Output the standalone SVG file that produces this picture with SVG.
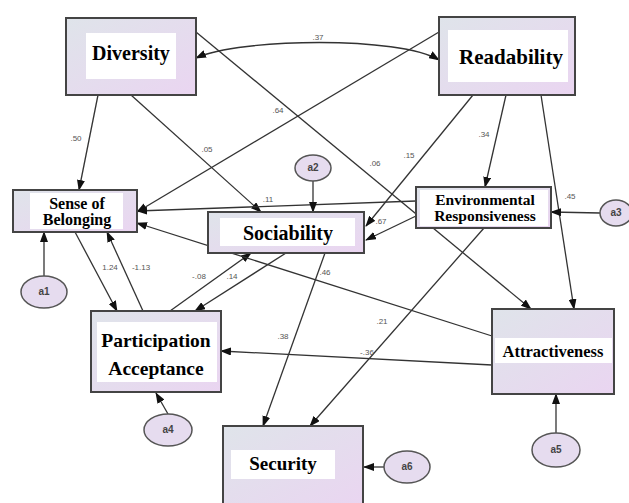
<svg xmlns="http://www.w3.org/2000/svg" width="629" height="503" viewBox="0 0 629 503">
<defs>
<linearGradient id="bg" x1="0" y1="0" x2="1" y2="1">
<stop offset="0" stop-color="#dfe4ea"/>
<stop offset="1" stop-color="#ead5f1"/>
</linearGradient>
<marker id="ah" markerWidth="11" markerHeight="8" refX="10" refY="4" orient="auto" markerUnits="userSpaceOnUse">
<path d="M0,0 L11,4 L0,8 z" fill="#111"/>
</marker>
<marker id="ahs" markerWidth="11" markerHeight="8" refX="1" refY="4" orient="auto" markerUnits="userSpaceOnUse">
<path d="M11,0 L0,4 L11,8 z" fill="#111"/>
</marker>
</defs>
<style>
.box{fill:url(#bg);stroke:#444;stroke-width:2}
.inner{fill:#fff}
.t{font-family:"Liberation Serif","Times New Roman",serif;font-weight:bold;fill:#000;text-anchor:middle}
.el{fill:#e6dcef;stroke:#555;stroke-width:1.5}
.et{font-family:"Liberation Sans",Arial,sans-serif;font-weight:bold;font-size:10px;fill:#444;text-anchor:middle}
.c{stroke:#333;stroke-width:1.3;fill:none;marker-end:url(#ah)}
.lb{font-family:"Liberation Sans",Arial,sans-serif;font-size:8px;fill:#555;text-anchor:middle}
</style>
<rect width="629" height="503" fill="#fff"/>
<g id="connectors">
<path class="c" d="M196,58 C240,38 400,36 439,60" marker-start="url(#ahs)"/>
<line class="c" x1="98" y1="95" x2="79" y2="190"/>
<line class="c" x1="131" y1="95" x2="261" y2="212"/>
<line class="c" x1="196" y1="32" x2="531" y2="309"/>
<line class="c" x1="439" y1="32" x2="137" y2="212"/>
<line class="c" x1="506" y1="95" x2="485" y2="187"/>
<line class="c" x1="473" y1="95" x2="366" y2="226"/>
<line class="c" x1="541" y1="95" x2="574" y2="309"/>
<line class="c" x1="416" y1="201" x2="137" y2="211"/>
<line class="c" x1="416" y1="216" x2="366" y2="240"/>
<line class="c" x1="484" y1="228" x2="310" y2="426"/>
<line class="c" x1="600" y1="213" x2="551" y2="212"/>
<line class="c" x1="286" y1="253" x2="195" y2="311"/>
<line class="c" x1="170" y1="311" x2="251" y2="253"/>
<line class="c" x1="325" y1="253" x2="263" y2="426"/>
<line class="c" x1="492" y1="336" x2="137" y2="223"/>
<line class="c" x1="492" y1="365" x2="221" y2="351"/>
<line class="c" x1="75" y1="232" x2="117" y2="311"/>
<line class="c" x1="143" y1="311" x2="107" y2="232"/>
<line class="c" x1="44" y1="276" x2="44" y2="232"/>
<line class="c" x1="313" y1="181" x2="313" y2="212"/>
<line class="c" x1="168" y1="414" x2="156" y2="393"/>
<line class="c" x1="556" y1="433" x2="556" y2="394"/>
<line class="c" x1="384" y1="467" x2="364" y2="467"/>
<text class="lb" x="318" y="40">.37</text>
<text class="lb" x="76" y="141">.50</text>
<text class="lb" x="207" y="152">.05</text>
<text class="lb" x="375" y="166">.06</text>
<text class="lb" x="278" y="113">.64</text>
<text class="lb" x="484" y="137">.34</text>
<text class="lb" x="409" y="158">.15</text>
<text class="lb" x="570" y="199">.45</text>
<text class="lb" x="268" y="202">.11</text>
<text class="lb" x="381" y="224">.67</text>
<text class="lb" x="382" y="324">.21</text>
<text class="lb" x="232" y="279">.14</text>
<text class="lb" x="199" y="279">-.08</text>
<text class="lb" x="283" y="339">.38</text>
<text class="lb" x="325" y="275">.46</text>
<text class="lb" x="367" y="355">-.36</text>
<text class="lb" x="110" y="270">1.24</text>
<text class="lb" x="141" y="270">-1.13</text>
</g>
<g id="diversity">
<rect class="box" x="66" y="18" width="130" height="77"/>
<rect class="inner" x="86" y="33" width="90" height="46"/>
<text class="t" x="131" y="60" font-size="20">Diversity</text>
</g>
<g id="readability">
<rect class="box" x="439" y="17" width="136" height="78"/>
<rect class="inner" x="448" y="30" width="120" height="52"/>
<text class="t" x="511" y="64" font-size="21">Readability</text>
</g>
<g id="sense-of-belonging">
<rect class="box" x="13" y="190" width="124" height="42"/>
<rect class="inner" x="30" y="193" width="93" height="36"/>
<text class="t" x="77" y="209" font-size="16">Sense of</text>
<text class="t" x="77" y="225" font-size="16">Belonging</text>
</g>
<g id="sociability">
<rect class="box" x="208" y="212" width="156" height="41"/>
<rect class="inner" x="220" y="218" width="135" height="28"/>
<text class="t" x="288" y="240" font-size="20">Sociability</text>
</g>
<g id="environmental-responsiveness">
<rect class="box" x="416" y="187" width="135" height="41"/>
<rect class="inner" x="420" y="190" width="128" height="36"/>
<text class="t" x="485" y="205" font-size="15.5">Environmental</text>
<text class="t" x="485" y="221" font-size="15.5">Responsiveness</text>
</g>
<g id="participation-acceptance">
<rect class="box" x="91" y="311" width="130" height="81"/>
<rect class="inner" x="97" y="322" width="120" height="60"/>
<text class="t" x="156" y="347" font-size="19.5">Participation</text>
<text class="t" x="156" y="375" font-size="19.5">Acceptance</text>
</g>
<g id="attractiveness">
<rect class="box" x="492" y="309" width="122" height="85"/>
<rect class="inner" x="495" y="338" width="117" height="25"/>
<text class="t" x="553" y="357" font-size="16.5">Attractiveness</text>
</g>
<g id="security">
<rect class="box" x="223" y="426" width="140" height="82"/>
<rect class="inner" x="231" y="450" width="104" height="29"/>
<text class="t" x="283" y="470" font-size="19">Security</text>
</g>
<g id="a1"><ellipse class="el" cx="44" cy="292" rx="23" ry="16"/><text class="et" x="44" y="295">a1</text></g>
<g id="a2"><ellipse class="el" cx="313" cy="168" rx="18" ry="13"/><text class="et" x="313" y="171">a2</text></g>
<g id="a3"><ellipse class="el" cx="616" cy="213" rx="16" ry="13"/><text class="et" x="616" y="216">a3</text></g>
<g id="a4"><ellipse class="el" cx="168" cy="430" rx="24" ry="16"/><text class="et" x="168" y="433">a4</text></g>
<g id="a5"><ellipse class="el" cx="556" cy="450" rx="24" ry="17"/><text class="et" x="556" y="453">a5</text></g>
<g id="a6"><ellipse class="el" cx="407" cy="467" rx="23" ry="16"/><text class="et" x="407" y="470">a6</text></g>
</svg>
